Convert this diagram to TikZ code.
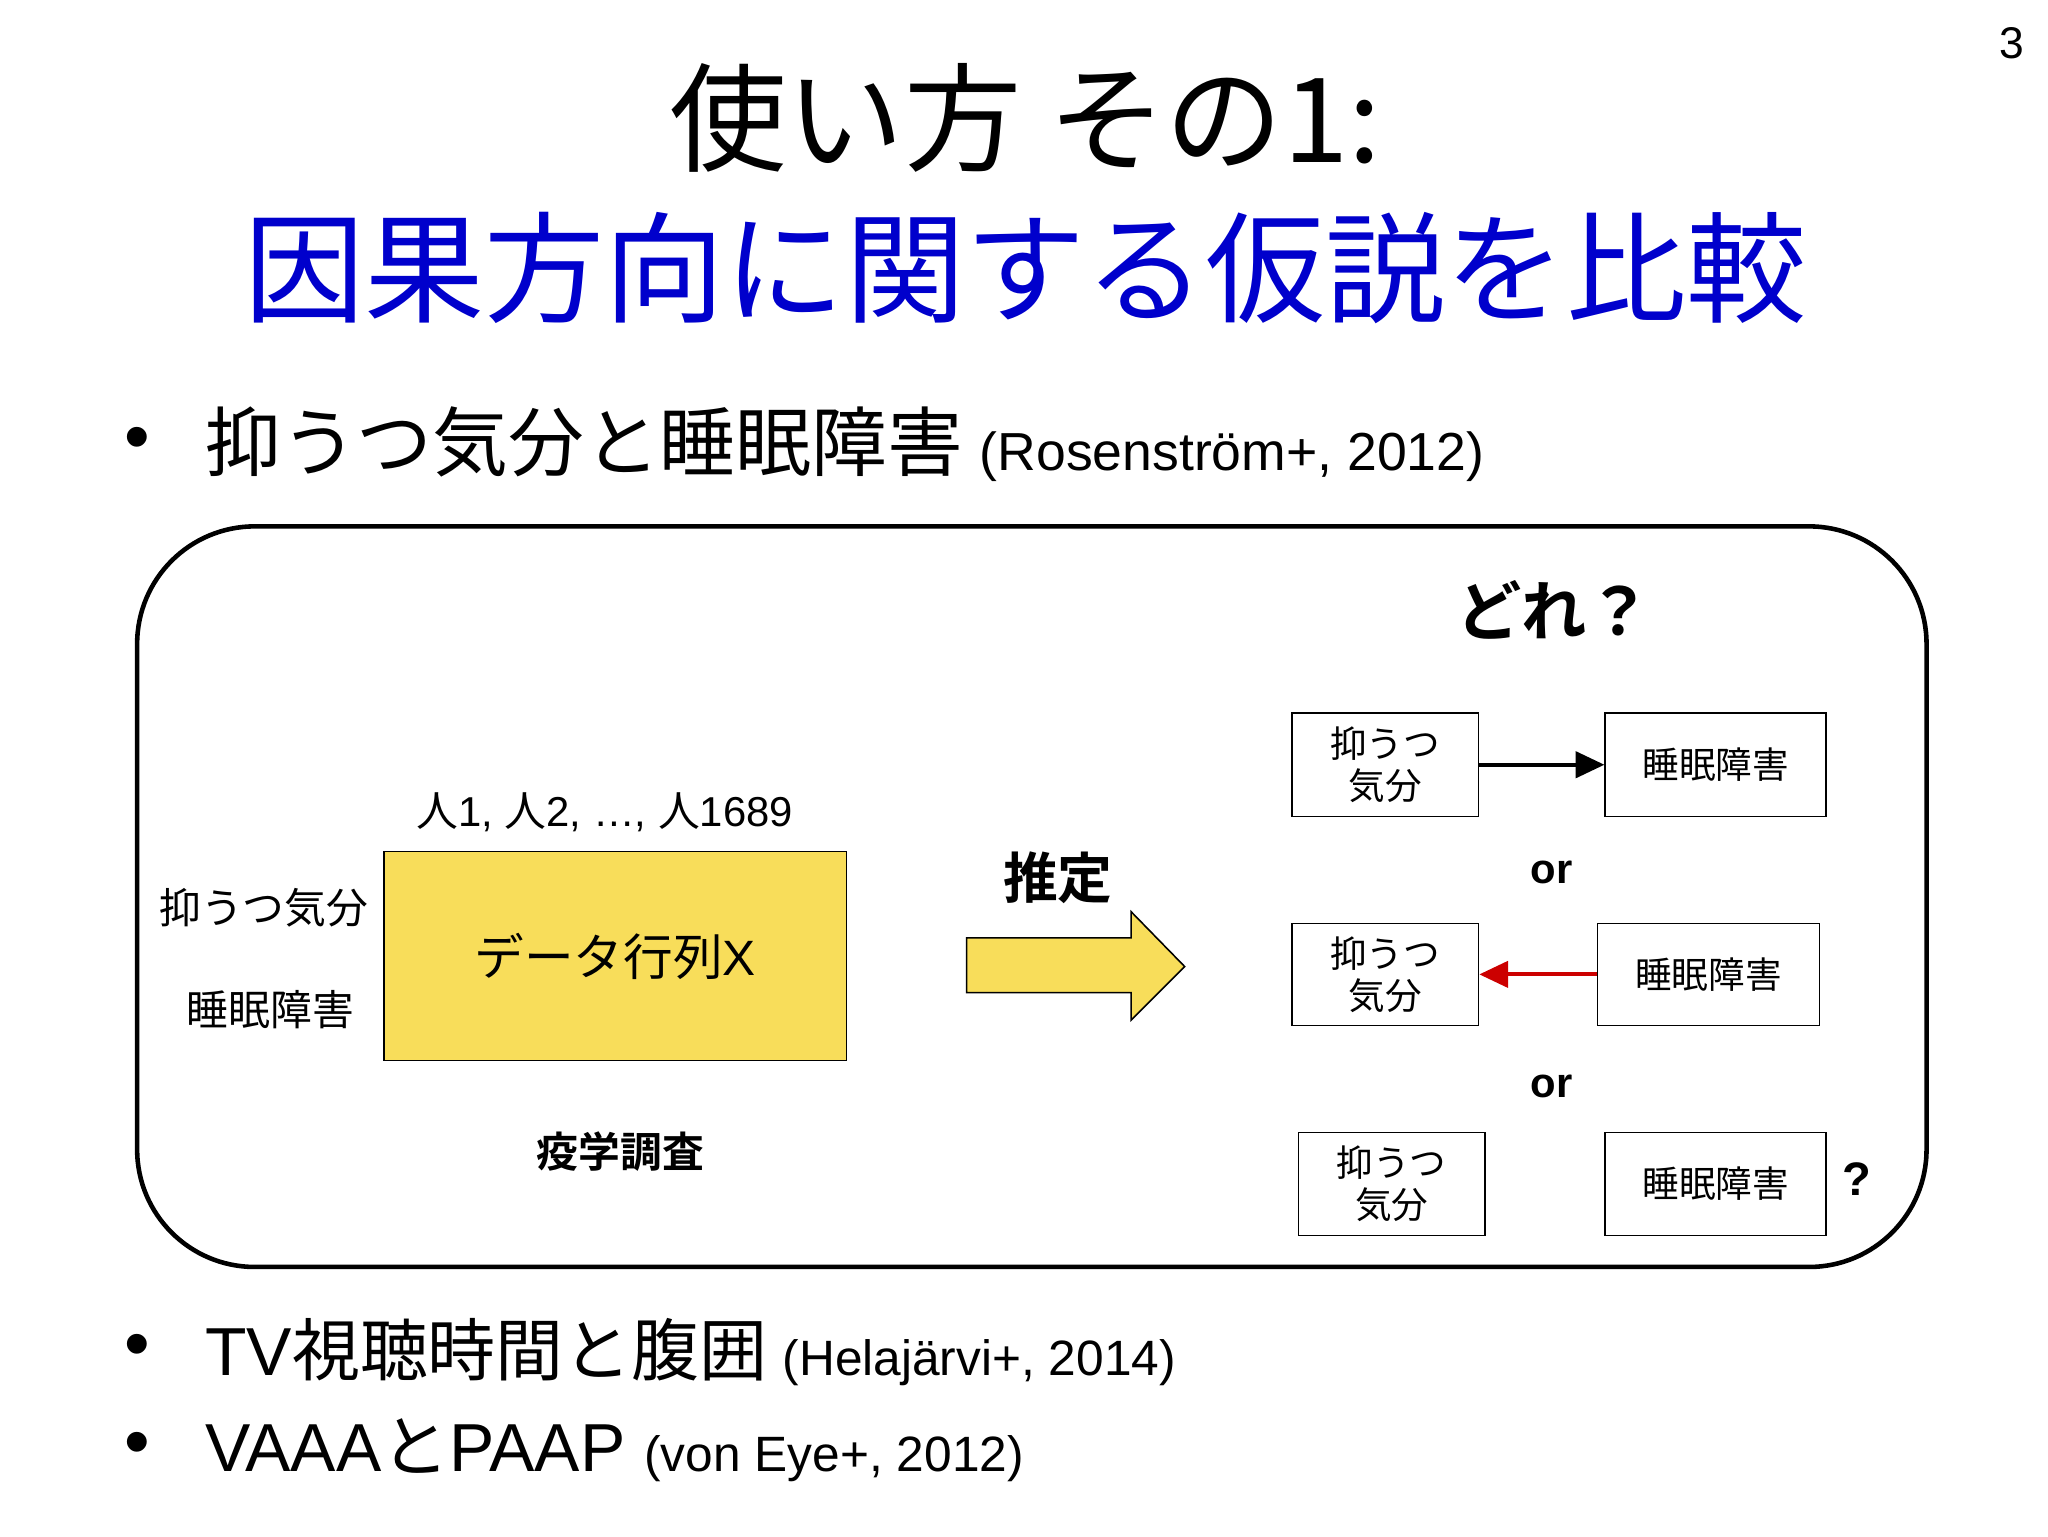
\documentclass[tikz,border=0pt]{standalone}
\usepackage{fontspec}
\setmainfont{Liberation Sans}
\newfontfamily\jp{Noto Sans CJK JP}
\newfontfamily\jpb{Noto Sans CJK JP Bold}
\usetikzlibrary{arrows.meta}
\definecolor{titleblue}{RGB}{0,0,204}
\definecolor{ylw}{RGB}{248,221,90}
\definecolor{arrred}{RGB}{204,0,0}
\tikzset{
 bx/.style={draw,line width=1.2pt,fill=white,align=center,inner sep=0pt,font=\fontsize{28}{32}\selectfont\jp},
 conn/.style={line width=3pt,-{Triangle[length=22pt,width=20pt]}}
}
\begin{document}
\begin{tikzpicture}[x=1pt,y=-1pt]
\useasboundingbox (0,0) rectangle (1568,1176);
\node (pg) at (1540,33) {\fontsize{34}{34}\selectfont 3};
\node (t1) at (785,90) {\fontsize{90}{90}\selectfont\jp 使い方 その1:};
\node[text=titleblue] (t2) at (785,205) {\fontsize{92}{92}\selectfont\jp 因果方向に関する仮説を比較};
\node (b1) at (105,340) {\fontsize{56}{56}\selectfont •};
\node[anchor=west,inner sep=0pt] (l1) at (157,340) {\fontsize{58}{58}\selectfont\jp 抑うつ気分と睡眠障害\ \fontsize{41}{41}\selectfont\rmfamily (Rosenström+, 2012)};
\draw[line width=3.5pt,rounded corners=90pt] (105,403) rectangle (1475,970);
\node (dore) at (1190,467) {\fontsize{50}{50}\selectfont\jpb どれ？};
\node[bx,minimum width=143pt,minimum height=79pt] (a1) at (1060.5,585.5) {抑うつ\\気分};
\node[bx,minimum width=169pt,minimum height=79pt] (c1) at (1313.5,585.5) {睡眠障害};
\node[bx,minimum width=143pt,minimum height=78pt] (a2) at (1060.5,746) {抑うつ\\気分};
\node[bx,minimum width=170pt,minimum height=78pt] (c2) at (1308,746) {睡眠障害};
\node[bx,minimum width=143pt,minimum height=79pt] (a3) at (1065.5,906.5) {抑うつ\\気分};
\node[bx,minimum width=169pt,minimum height=79pt] (c3) at (1313.5,906.5) {睡眠障害};
\draw[conn] (a1) -- (c1);
\draw[conn,arrred] (c2) -- (a2);
\node (or1) at (1188,668) {\fontsize{32}{32}\selectfont\bfseries or};
\node (or2) at (1188,832) {\fontsize{32}{32}\selectfont\bfseries or};
\node (q) at (1422,903) {\fontsize{36}{36}\selectfont\bfseries ?};
\node[draw,line width=1.2pt,fill=ylw,minimum width=354pt,minimum height=160pt] (mx) at (471,732) {\fontsize{38}{38}\selectfont\jp データ行列\rmfamily X};
\node (ppl) at (463,622) {\fontsize{32}{32}\selectfont{\jp 人}1, {\jp 人}2, …, {\jp 人}1689};
\node (v1) at (202,695) {\fontsize{32}{32}\selectfont\jp 抑うつ気分};
\node (v2) at (207,773) {\fontsize{32}{32}\selectfont\jp 睡眠障害};
\node (ek) at (475,882) {\fontsize{32}{32}\selectfont\jpb 疫学調査};
\node (su) at (810,672) {\fontsize{42}{42}\selectfont\jpb 推定};
\draw[line width=1.2pt,fill=ylw] (740,718) -- (866,718) -- (866,698) -- (907,740) -- (866,781) -- (866,760) -- (740,760) -- cycle;
\node (b2) at (105,1035) {\fontsize{56}{56}\selectfont •};
\node[anchor=west,inner sep=0pt] (l2) at (157,1035) {\fontsize{52}{52}\selectfont{\rmfamily TV}\jp 視聴時間と腹囲\ \fontsize{38}{38}\selectfont\rmfamily (Helajärvi+, 2014)};
\node (b3) at (105,1110) {\fontsize{56}{56}\selectfont •};
\node[anchor=west,inner sep=0pt] (l3) at (157,1110) {\fontsize{52}{52}\selectfont{\rmfamily VAAA}{\jp と}{\rmfamily PAAP}\ \fontsize{38}{38}\selectfont\rmfamily (von Eye+, 2012)};
\end{tikzpicture}
\end{document}
